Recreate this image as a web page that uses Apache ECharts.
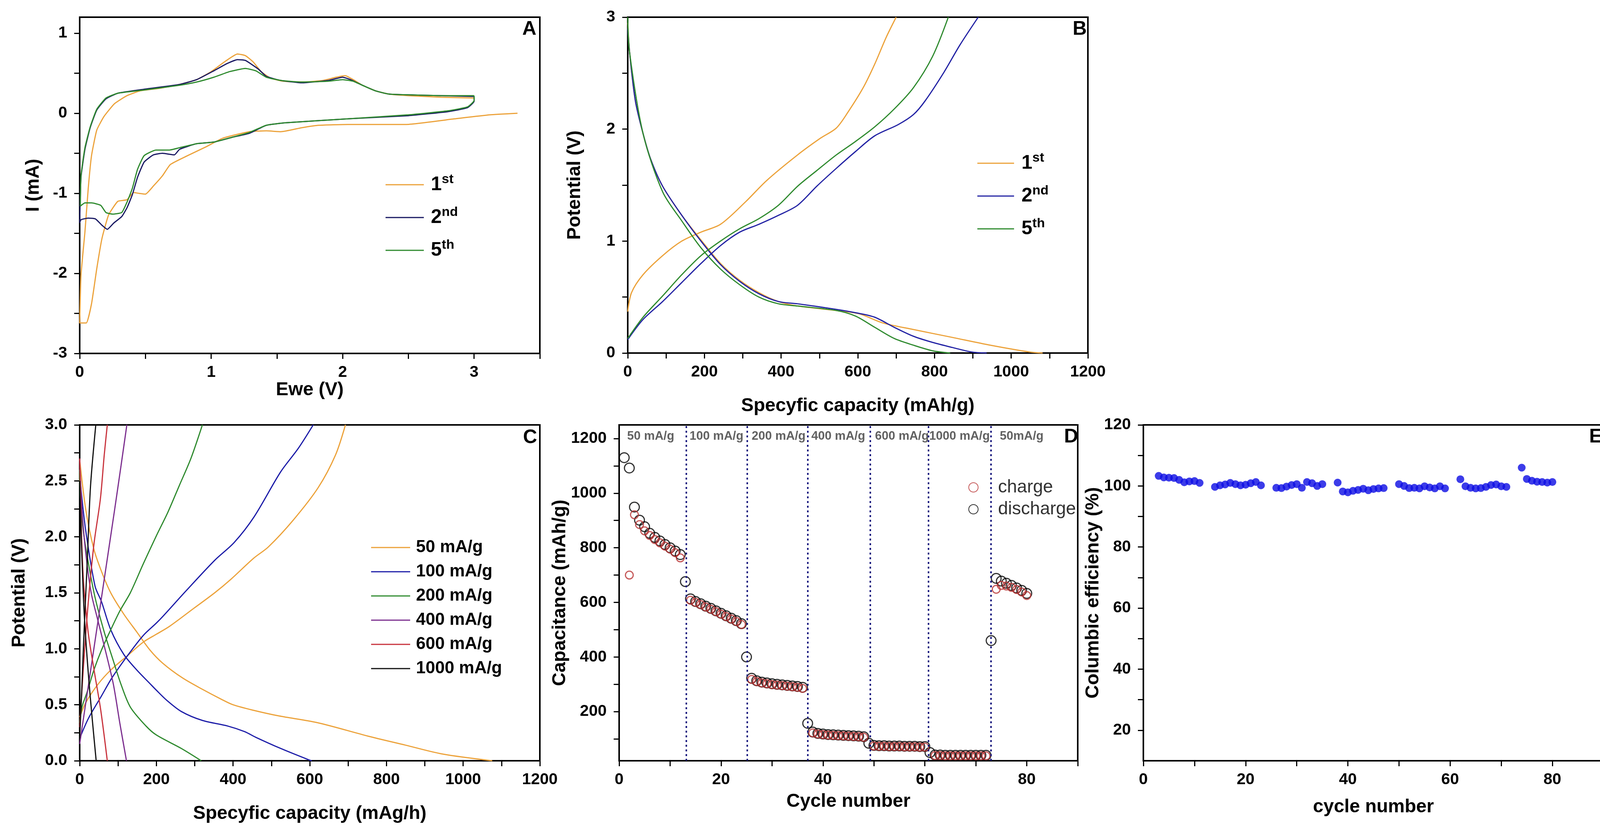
<!DOCTYPE html>
<html>
<head>
<meta charset="utf-8">
<script src="https://cdn.jsdelivr.net/npm/echarts@6.0.0/dist/echarts.min.js"></script>
<style>
  html, body { margin: 0; padding: 0; background: #fff; }
  #chart { width: 4136px; height: 2133px; }
</style>
</head>
<body>
<div id="chart"></div>
<script>
// ---- panel A: cyclic voltammetry, [Ewe (V), I (mA)] ----
var cv1st = [[3.33,0.0],[3.12,-0.02],[2.85,-0.07],[2.48,-0.14],[2.04,-0.14],[1.82,-0.15],[1.69,-0.18],[1.53,-0.23],[1.42,-0.22],[1.29,-0.23],[1.09,-0.31],[0.96,-0.42],[0.82,-0.53],[0.69,-0.64],[0.63,-0.78],[0.56,-0.91],[0.50,-1.01],[0.45,-1.00],[0.41,-0.99],[0.36,-1.08],[0.29,-1.10],[0.22,-1.27],[0.17,-1.56],[0.13,-1.94],[0.09,-2.38],[0.05,-2.62],[0.0,-2.62],[0.01,-2.02],[0.04,-1.48],[0.065,-0.94],[0.09,-0.53],[0.13,-0.21],[0.185,-0.04],[0.265,0.12],[0.36,0.22],[0.46,0.28],[0.6,0.31],[0.76,0.36],[0.89,0.42],[1.0,0.52],[1.1,0.64],[1.2,0.74],[1.26,0.72],[1.32,0.64],[1.38,0.52],[1.45,0.44],[1.55,0.40],[1.7,0.39],[1.85,0.41],[1.95,0.45],[2.02,0.47],[2.08,0.42],[2.15,0.35],[2.25,0.28],[2.35,0.24],[2.5,0.22],[2.75,0.20],[3.0,0.19]];
var cv2nd = [[3.0,0.2],[3.0,0.15],[2.95,0.07],[2.8,0.02],[2.5,-0.03],[2.04,-0.07],[1.56,-0.12],[1.42,-0.15],[1.29,-0.25],[1.16,-0.30],[1.02,-0.36],[0.89,-0.38],[0.76,-0.45],[0.72,-0.52],[0.63,-0.50],[0.56,-0.52],[0.49,-0.61],[0.44,-0.80],[0.40,-1.02],[0.36,-1.18],[0.32,-1.29],[0.26,-1.37],[0.21,-1.45],[0.17,-1.40],[0.12,-1.32],[0.065,-1.31],[0.01,-1.33],[0.0,-1.37],[0.01,-0.80],[0.04,-0.45],[0.08,-0.18],[0.13,0.04],[0.2,0.18],[0.29,0.25],[0.49,0.30],[0.76,0.36],[0.89,0.42],[1.02,0.53],[1.12,0.62],[1.20,0.67],[1.26,0.66],[1.36,0.55],[1.42,0.46],[1.53,0.41],[1.69,0.38],[1.89,0.41],[2.0,0.45],[2.06,0.42],[2.15,0.35],[2.25,0.28],[2.35,0.24],[2.5,0.23],[2.75,0.22],[3.0,0.21]];
var cv5th = [[3.0,0.22],[3.0,0.16],[2.95,0.08],[2.8,0.03],[2.5,-0.02],[2.04,-0.07],[1.56,-0.12],[1.42,-0.15],[1.29,-0.24],[1.16,-0.30],[1.02,-0.36],[0.89,-0.38],[0.76,-0.43],[0.68,-0.46],[0.58,-0.46],[0.49,-0.53],[0.44,-0.70],[0.40,-0.94],[0.36,-1.11],[0.32,-1.24],[0.25,-1.26],[0.2,-1.24],[0.16,-1.15],[0.09,-1.12],[0.04,-1.12],[0.005,-1.16],[0.01,-0.78],[0.04,-0.43],[0.08,-0.17],[0.13,0.05],[0.2,0.19],[0.29,0.25],[0.49,0.29],[0.76,0.35],[0.89,0.39],[1.02,0.45],[1.14,0.52],[1.26,0.56],[1.34,0.53],[1.42,0.45],[1.53,0.41],[1.69,0.39],[1.89,0.40],[2.0,0.42],[2.08,0.40],[2.15,0.35],[2.25,0.28],[2.35,0.24],[2.5,0.23],[2.75,0.22],[3.0,0.22]];

// ---- panel B: charge / discharge profiles, [capacity, potential] ----
var b1stCharge = [[0,0.37],[10,0.54],[40,0.70],[91,0.87],[141,1.0],[191,1.08],[242,1.15],[307,1.35],[362,1.54],[443,1.77],[503,1.92],[544,2.01],[574,2.15],[614,2.37],[644,2.58],[674,2.82],[700,3.0]];
var b1stDischarge = [[0,2.95],[5,2.68],[20,2.25],[40,1.96],[60,1.73],[91,1.49],[141,1.23],[191,1.01],[242,0.80],[292,0.65],[342,0.54],[393,0.46],[443,0.42],[544,0.38],[604,0.35],[664,0.27],[745,0.21],[846,0.14],[946,0.07],[1047,0.01],[1082,0.0]];
var b2ndCharge = [[0,0.12],[40,0.30],[91,0.46],[141,0.63],[191,0.80],[242,0.96],[292,1.08],[342,1.15],[393,1.23],[443,1.32],[493,1.49],[544,1.65],[594,1.80],[644,1.94],[705,2.04],[745,2.13],[775,2.25],[825,2.51],[866,2.75],[914,3.0]];
var b2ndDischarge = [[0,2.9],[5,2.68],[20,2.25],[40,1.96],[60,1.73],[91,1.49],[141,1.23],[191,1.0],[242,0.79],[292,0.64],[342,0.53],[393,0.46],[443,0.44],[544,0.39],[594,0.36],[644,0.32],[695,0.23],[745,0.15],[795,0.095],[846,0.05],[896,0.01],[936,0]];
var b5thCharge = [[0,0.13],[40,0.32],[91,0.51],[141,0.70],[191,0.87],[242,1.0],[292,1.11],[342,1.20],[393,1.32],[443,1.49],[493,1.63],[544,1.77],[594,1.89],[644,2.02],[695,2.18],[745,2.37],[795,2.65],[836,3.0]];
var b5thDischarge = [[0,3.0],[5,2.68],[40,1.96],[91,1.44],[141,1.18],[191,0.94],[242,0.75],[292,0.61],[342,0.50],[393,0.44],[443,0.42],[544,0.38],[594,0.33],[644,0.23],[695,0.13],[745,0.07],[795,0.02],[841,0.0]];

// ---- panel C: rate profiles ----
var rateNamesC = ['50 mA/g', '100 mA/g', '200 mA/g', '400 mA/g', '600 mA/g', '1000 mA/g'];
var c50Charge = [[0,0.39],[16,0.52],[47,0.68],[81,0.81],[125,0.94],[166,1.06],[200,1.13],[234,1.2],[297,1.36],[352,1.50],[394,1.62],[454,1.81],[492,1.91],[557,2.15],[622,2.44],[667,2.73],[693,3.0]];
var c50Discharge = [[0,2.69],[16,2.24],[37,1.89],[57,1.69],[81,1.50],[115,1.31],[149,1.15],[183,0.99],[217,0.87],[268,0.74],[319,0.64],[369,0.55],[400,0.50],[454,0.45],[520,0.40],[620,0.34],[752,0.22],[849,0.14],[946,0.06],[1076,0]];
var c100Charge = [[0,0.2],[23,0.38],[57,0.58],[84,0.74],[125,0.94],[166,1.12],[200,1.23],[217,1.29],[278,1.52],[352,1.79],[403,1.95],[455,2.18],[524,2.58],[570,2.79],[609,3.0]];
var c100Discharge = [[0,2.6],[3,2.44],[16,2.05],[40,1.56],[57,1.42],[81,1.17],[115,0.95],[149,0.81],[183,0.69],[200,0.63],[227,0.54],[265,0.44],[320,0.36],[386,0.31],[430,0.26],[459,0.21],[524,0.11],[596,0.01],[605,0]];
var c200Charge = [[0,0.34],[6,0.48],[20,0.62],[37,0.81],[57,0.99],[81,1.17],[105,1.34],[132,1.50],[166,1.76],[200,2.01],[230,2.22],[260,2.46],[290,2.70],[320,3.0]];
var c200Discharge = [[0,2.6],[1,2.37],[9.5,2.05],[23,1.76],[40,1.46],[64,1.15],[88,0.89],[108,0.68],[132,0.48],[173,0.31],[200,0.23],[265,0.11],[317,0]];
var c400Charge = [[0,0.15],[6,0.29],[23,0.68],[40,1.07],[57,1.46],[74,1.85],[91,2.24],[108,2.64],[123,3.0]];
var c400Discharge = [[0,2.7],[1,2.6],[6,2.24],[16,1.85],[30,1.5],[47,1.26],[71,0.93],[88,0.68],[105,0.33],[122,0]];
var c600Charge = [[0,0.3],[10,0.85],[22,1.4],[37,1.93],[54,2.34],[64,2.73],[72,3.0]];
var c600Discharge = [[0,2.7],[5,2.0],[10,1.6],[22,1.15],[38,0.8],[55,0.45],[72,0]];
var c1000Charge = [[0,0.2],[5,0.6],[12,1.2],[20,1.8],[28,2.44],[42,3.0]];
var c1000Discharge = [[0,2.5],[5,1.9],[12,1.3],[22,0.8],[32,0.4],[43,0]];

// ---- panel D: rate capability, cycle 1..80 ----
var dischargeCap = [1130,1092,949,901,877,853,838,825,812,800,788,775,
  676,613,603,595,586,578,569,560,551,542,533,522,
  400,322,313,308,305,302,300,298,296,294,292,289,
  157,125,120,118,116,115,114,113,112,111,110,108,
  84,76,75,75,74,74,74,73,73,73,72,72,
  50,41,41,40,40,40,40,40,40,40,40,40,
  460,688,678,670,662,653,644,633];
var chargeCap = [null,700,921,885,862,845,830,818,806,795,782,763,
  null,608,600,592,583,575,566,557,548,539,530,519,
  null,318,310,305,302,299,297,295,293,291,289,285,
  null,122,118,116,114,113,112,111,110,109,108,106,
  null,74,73,73,72,72,72,71,71,71,70,70,
  null,39,39,38,38,38,38,38,38,38,38,38,
  null,648,662,660,655,647,638,625];
var rateBounds = [13.2, 25.1, 37.0, 49.3, 60.7, 73.0];
var rateLabels = ['50 mA/g', '100 mA/g', '200 mA/g', '400 mA/g', '600 mA/g', '1000 mA/g', '50mA/g'];
var rateLabelX = [6.2, 19.1, 31.3, 43.0, 55.5, 66.8, 79.0];
var rateLabelY = 1208;

// ---- panel E: coulombic efficiency ----
var effCycles = [3,4,5,6,7,8,9,10,11, 14,15,16,17,18,19,20,21,22,23, 26,27,28,29,30,31,32,33,34,35,
  38,39,40,41,42,43,44,45,46,47, 50,51,52,53,54,55,56,57,58,59, 62,63,64,65,66,67,68,69,70,71, 74,75,76,77,78,79,80];
var effValues = [103.3,102.8,102.7,102.6,102.0,101.2,101.5,101.6,101.0,
  99.7,100.2,100.5,101.0,100.6,100.2,100.4,100.9,101.3,100.2,
  99.4,99.3,99.8,100.3,100.6,99.4,101.3,100.9,100.0,100.6,
  101.1,98.2,97.9,98.4,98.7,99.1,98.6,99.0,99.2,99.3,
  100.6,100.0,99.3,99.4,99.2,99.9,99.5,99.2,99.9,99.2,
  102.2,99.9,99.4,99.2,99.3,99.7,100.3,100.5,99.9,99.7,
  106.0,102.3,101.7,101.4,101.3,101.1,101.3];

// tick label values
var labelsA_x = [0, 1, 2, 3];
var labelsA_y = [-3, -2, -1, 0, 1];
var labelsB_x = [0, 200, 400, 600, 800, 1000, 1200];
var labelsB_y = [0, 1, 2, 3];
var labelsC_y = [0, 0.5, 1, 1.5, 2, 2.5, 3];
var labelsD_y = [200, 400, 600, 800, 1000, 1200];
var labelsCycle = [0, 20, 40, 60, 80];
var labelsE_y = [20, 40, 60, 80, 100, 120];

var SANS = "'Liberation Sans',Arial,sans-serif";
var ORANGE = '#eca23a', NAVY = '#181862', BLUE = '#2222a4', GREEN = '#2e8a2e';

function steps(a, b, s) {
  var r = [];
  for (var v = a; v <= b + 1e-9; v += s) r.push(+v.toFixed(4));
  return r;
}

var titleStyle = { fontSize: 48, fontWeight: 'bold', fontFamily: SANS, color: '#000' };

function axis(dim, gi, min, max, ticks, labels, name, gap, fmt) {
  var a = {
    type: 'value', gridIndex: gi, min: min, max: max,
    name: name, nameLocation: 'middle', nameGap: gap, nameTextStyle: titleStyle,
    axisLine: { show: true, onZero: false, lineStyle: { color: '#000', width: 4 } },
    axisTick: { show: true, inside: false, length: 14, lineStyle: { color: '#000', width: 3 }, customValues: ticks },
    axisLabel: { show: true, customValues: labels, margin: dim === 'x' ? 28 : 32, color: '#000',
      fontSize: 41, fontWeight: 'bold', fontFamily: SANS, formatter: fmt },
    splitLine: { show: false }
  };
  if (dim === 'y') a.nameRotate = 90;
  return a;
}

function line(name, data, color, xi, smooth) {
  return { name: name, type: 'line', xAxisIndex: xi, yAxisIndex: xi, data: data,
    showSymbol: false, symbol: 'none', smooth: smooth, clip: true,
    lineStyle: { color: color, width: 3 }, itemStyle: { color: color } };
}

var grids = [
  { left: 204, top: 44, width: 1178, height: 861 },
  { left: 1607, top: 44, width: 1178, height: 860 },
  { left: 204, top: 1088, width: 1178, height: 860 },
  { left: 1585, top: 1088, width: 1174, height: 860 },
  { left: 2927, top: 1088, width: 1178, height: 860 }
].map(function (g) {
  g.show = true; g.borderColor = '#000'; g.borderWidth = 4; g.containLabel = false; g.outerBoundsMode = 'none';
  return g;
});

var fmtInt = function (v) { return String(Math.round(v)); };
var fmt1 = function (v) { return v.toFixed(1); };

var xAxes = [
  axis('x', 0, 0, 3.5, steps(0, 3.5, 0.5), labelsA_x, 'Ewe (V)', 70, fmtInt),
  axis('x', 1, 0, 1200, steps(0, 1200, 100), labelsB_x, 'Specyfic capacity (mAh/g)', 112, fmtInt),
  axis('x', 2, 0, 1200, steps(0, 1200, 100), labelsB_x, 'Specyfic capacity (mAg/h)', 112, fmtInt),
  axis('x', 3, 0, 90, steps(0, 90, 10), labelsCycle, 'Cycle number', 81, fmtInt),
  axis('x', 4, 0, 90, steps(0, 90, 10), labelsCycle, 'cycle number', 95, fmtInt)
];
var yAxes = [
  axis('y', 0, -3, 1.2, steps(-3, 1, 0.5), labelsA_y, 'I (mA)', 94, fmtInt),
  axis('y', 1, 0, 3, steps(0, 3, 0.5), labelsB_y, 'Potential (V)', 111, fmtInt),
  axis('y', 2, 0, 3, steps(0, 3, 0.25), labelsC_y, 'Potential (V)', 130, fmt1),
  axis('y', 3, 20, 1250, steps(100, 1200, 100), labelsD_y, 'Capacitance (mAh/g)', 127, fmtInt),
  axis('y', 4, 10, 120, steps(20, 120, 10), labelsE_y, 'Columbic efficiency (%)', 91, fmtInt)
];

var cColors = [ORANGE, '#1c1ca8', GREEN, '#7b2d8e', '#c8323c', '#111111'];
var cCurves = [[c50Charge, c50Discharge], [c100Charge, c100Discharge], [c200Charge, c200Discharge],
  [c400Charge, c400Discharge], [c600Charge, c600Discharge], [c1000Charge, c1000Discharge]];

var series = [
  line('A1', cv1st, ORANGE, 0, 0.15),
  line('A2', cv2nd, NAVY, 0, 0.15),
  line('A5', cv5th, GREEN, 0, 0.15),
  line('B1', b1stCharge, ORANGE, 1, 0.3),
  line('B1', b1stDischarge, ORANGE, 1, 0.3),
  line('B2', b2ndCharge, BLUE, 1, 0.3),
  line('B2', b2ndDischarge, BLUE, 1, 0.3),
  line('B5', b5thCharge, GREEN, 1, 0.3),
  line('B5', b5thDischarge, GREEN, 1, 0.3)
];
cCurves.forEach(function (pair, i) {
  series.push(line(rateNamesC[i], pair[0], cColors[i], 2, 0.3));
  series.push(line(rateNamesC[i], pair[1], cColors[i], 2, 0.3));
});

var dischargePts = dischargeCap.map(function (v, i) { return [i + 1, v]; });
var chargePts = [];
chargeCap.forEach(function (v, i) { if (v !== null) chargePts.push([i + 1, v]); });

series.push({
  name: 'discharge', type: 'scatter', xAxisIndex: 3, yAxisIndex: 3, data: dischargePts,
  symbol: 'circle', symbolSize: 25,
  itemStyle: { color: 'rgba(0,0,0,0)', borderColor: '#000', borderWidth: 3 },
  markLine: {
    silent: true, symbol: ['none', 'none'], label: { show: false },
    lineStyle: { type: [5, 7], color: '#1b1b80', width: 4 },
    data: rateBounds.map(function (x) { return { xAxis: x }; })
  }
});
series.push({
  name: 'charge', type: 'scatter', xAxisIndex: 3, yAxisIndex: 3, data: chargePts,
  symbol: 'circle', symbolSize: 20,
  itemStyle: { color: 'rgba(0,0,0,0)', borderColor: '#b83232', borderWidth: 3 }
});
series.push({
  name: 'rates', type: 'scatter', xAxisIndex: 3, yAxisIndex: 3, silent: true,
  data: rateLabels.map(function (t, i) { return [rateLabelX[i], rateLabelY, t]; }),
  symbolSize: 0,
  label: { show: true, position: 'inside', formatter: function (p) { return p.data[2]; },
    fontSize: 31, fontWeight: 'bold', fontFamily: SANS, color: '#3a3a3a' }
});
series.push({
  name: 'efficiency', type: 'scatter', xAxisIndex: 4, yAxisIndex: 4,
  data: effCycles.map(function (c, i) { return [c, effValues[i]]; }),
  symbol: 'circle', symbolSize: 20, itemStyle: { color: '#0b0be4' }
});

var supRich = {
  n: { fontSize: 50, fontWeight: 'bold', fontFamily: SANS, color: '#000', lineHeight: 60 },
  s: { fontSize: 34, fontWeight: 'bold', fontFamily: SANS, color: '#000', lineHeight: 34, verticalAlign: 'top' }
};
var supText = { A1: '{n|1}{s|st}', A2: '{n|2}{s|nd}', A5: '{n|5}{s|th}', B1: '{n|1}{s|st}', B2: '{n|2}{s|nd}', B5: '{n|5}{s|th}' };
function supFmt(n) { return supText[n]; }

var legends = [
  { data: ['A1', 'A2', 'A5'], left: 982, top: 438, orient: 'vertical', icon: 'rect', itemWidth: 98, itemHeight: 3, itemGap: 29,
    formatter: supFmt, textStyle: { rich: supRich, padding: [0, 0, 0, 13] }, selectedMode: false },
  { data: ['B1', 'B2', 'B5'], left: 2497, top: 383, orient: 'vertical', icon: 'rect', itemWidth: 94, itemHeight: 3, itemGap: 29,
    formatter: supFmt, textStyle: { rich: supRich, padding: [0, 0, 0, 14] }, selectedMode: false },
  { data: rateNamesC, left: 945, top: 1372, orient: 'vertical', icon: 'rect', itemWidth: 100, itemHeight: 3, itemGap: 12,
    textStyle: { fontSize: 44, fontWeight: 'bold', fontFamily: SANS, color: '#000', lineHeight: 50, padding: [0, 0, 0, 10] },
    selectedMode: false },
  { data: ['charge', 'discharge'], left: 2474, top: 1218, orient: 'vertical', itemWidth: 24, itemHeight: 24, itemGap: 6,
    icon: 'circle',
    textStyle: { fontSize: 46, fontFamily: SANS, color: '#333', lineHeight: 50, padding: [0, 0, 0, 46] },
    selectedMode: false }
];

var letters = [['A', 1355, 75], ['B', 2764, 75], ['C', 1357, 1121], ['D', 2742, 1119], ['E', 4085, 1119]];

var chart = echarts.init(document.getElementById('chart'), null, { renderer: 'canvas' });
chart.setOption({
  backgroundColor: '#fff',
  animation: false,
  grid: grids,
  xAxis: xAxes,
  yAxis: yAxes,
  legend: legends,
  series: series,
  graphic: letters.map(function (l) {
    return { type: 'text', x: l[1], y: l[2], z: 100,
      style: { text: l[0], fontSize: 50, fontWeight: 'bold', fontFamily: SANS, fill: '#000',
        align: 'center', verticalAlign: 'middle' } };
  })
});
</script>
</body>
</html>
